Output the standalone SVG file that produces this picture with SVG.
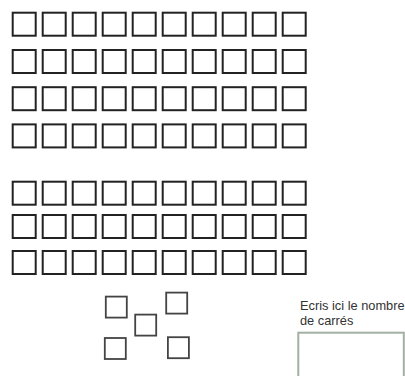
<svg xmlns="http://www.w3.org/2000/svg" width="405" height="376" viewBox="0 0 405 376">
<defs>
<style>
.sq{fill:#fff;stroke:#222;stroke-width:2}
.sc{fill:#fff;stroke:#444;stroke-width:1.8}
.lbl{font-family:"Liberation Sans",Arial,sans-serif;font-size:12.8px;fill:#333}
.box{fill:#fff;stroke:#a3b0a3;stroke-width:2}
</style>
<rect id="s" class="sq" width="23" height="23"/>
<g id="row">
<use href="#s" x="12.7"/><use href="#s" x="42.7"/><use href="#s" x="72.7"/><use href="#s" x="102.7"/><use href="#s" x="132.7"/>
<use href="#s" x="162.7"/><use href="#s" x="192.7"/><use href="#s" x="222.7"/><use href="#s" x="252.7"/><use href="#s" x="282.7"/>
</g>
</defs>
<rect width="405" height="376" fill="#fff"/>
<g id="grid-top">
<use href="#row" y="12.7"/>
<use href="#row" y="50"/>
<use href="#row" y="87.2"/>
<use href="#row" y="124.4"/>
</g>
<g id="grid-bottom">
<use href="#row" y="181.7"/>
<use href="#row" y="215"/>
<use href="#row" y="251"/>
</g>
<g id="scattered">
<rect class="sc" x="105.8" y="296.6" width="21" height="21"/>
<rect class="sc" x="135.2" y="314.6" width="21" height="21"/>
<rect class="sc" x="166.2" y="292.6" width="21" height="21"/>
<rect class="sc" x="104.8" y="338" width="21" height="21"/>
<rect class="sc" x="167.9" y="337.2" width="21" height="21"/>
</g>
<g id="answer">
<text class="lbl" x="300" y="310">Ecris ici le nombre</text>
<text class="lbl" x="300" y="325">de carrés</text>
<rect class="box" x="298.3" y="332.7" width="105.5" height="60"/>
</g>
</svg>
